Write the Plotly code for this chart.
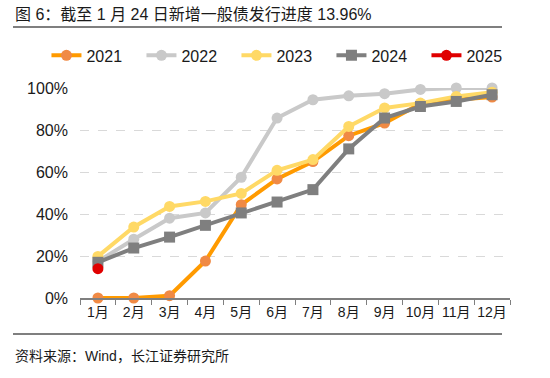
import plotly.graph_objects as go

months = ["1月", "2月", "3月", "4月", "5月", "6月", "7月", "8月", "9月", "10月", "11月", "12月"]
s2021 = [0.0, 0.0, 1.1, 17.6, 44.4, 56.7, 65.0, 77.3, 83.3, 92.5, 94.4, 95.7]
s2022 = [17.4, 28.0, 38.0, 40.5, 57.5, 85.7, 94.4, 96.3, 97.3, 99.3, 100.0, 100.0]
s2023 = [19.8, 33.8, 43.6, 46.0, 49.8, 60.8, 65.9, 81.7, 90.5, 92.8, 96.0, 98.0]
s2024 = [17.0, 23.8, 29.0, 34.6, 40.5, 45.7, 51.6, 71.0, 85.7, 91.2, 93.6, 96.8]
s2025 = [13.96]

FONT = "Liberation Sans, Arial, Noto Sans CJK SC"

series = [
    ("2021", s2021, "#FF9A00", "#F08A45", "circle"),
    ("2022", s2022, "#C9C9C9", "#C9C9C9", "circle"),
    ("2023", s2023, "#FFD966", "#FFD966", "circle"),
    ("2024", s2024, "#7F7F7F", "#7F7F7F", "square"),
    ("2025", s2025, "#E00000", "#E00000", "circle"),
]

fig = go.Figure()
for name, vals, lc, mc, sym in series:
    fig.add_trace(go.Scatter(
        x=months[:len(vals)], y=[v / 100 for v in vals], name=name,
        mode="lines+markers",
        line=dict(color=lc, width=4),
        marker=dict(color=mc, size=11, symbol=sym, line=dict(width=0)),
        cliponaxis=False,
    ))

fig.update_layout(
    width=550, height=378,
    margin=dict(l=80, r=40, t=88, b=80, autoexpand=False),
    paper_bgcolor="white", plot_bgcolor="white",
    font=dict(family=FONT, color="#1a1a1a"),
    showlegend=True,
    legend=dict(orientation="h", x=-0.078, xanchor="left", y=1.155, yanchor="middle",
                font=dict(size=16, family=FONT), entrywidth=50, entrywidthmode="pixels",
                itemwidth=30, bgcolor="rgba(0,0,0,0)", tracegroupgap=0),
)
fig.update_xaxes(
    type="category", tickson="boundaries", ticks="outside", ticklen=5, tickcolor="#7F7F7F",
    showline=True, linecolor="#7F7F7F", linewidth=1.5, showgrid=False, tickangle=0,
    tickfont=dict(size=14, family=FONT), range=[-0.5, 11.5],
)
fig.update_yaxes(
    range=[0, 1.0], tickvals=[0, 0.2, 0.4, 0.6, 0.8, 1.0], tickformat=".0%",
    showgrid=True, gridcolor="#D9D9D9", griddash="dash", gridwidth=1.2,
    zeroline=False, showline=False, ticks="", tickfont=dict(size=16, family=FONT),
    ticklabelstandoff=11,
)

fig.add_annotation(text="图 6：截至 1 月 24 日新增一般债发行进度 13.96%", xref="paper", yref="paper",
                   x=(13 - 80) / 430, y=(298 - 15) / 210, xanchor="left", yanchor="middle",
                   showarrow=False, font=dict(size=16, family=FONT, color="#1a1a1a"))
fig.add_annotation(text="资料来源：Wind，长江证券研究所", xref="paper", yref="paper",
                   x=(13 - 80) / 430, y=(298 - 356) / 210, xanchor="left", yanchor="middle",
                   showarrow=False, font=dict(size=14, family=FONT, color="#1a1a1a"))
fig.add_shape(type="line", xref="paper", yref="paper", x0=(13 - 80) / 430, x1=(502 - 80) / 430,
              y0=(298 - 27) / 210, y1=(298 - 27) / 210, line=dict(color="#555555", width=1.5))
fig.add_shape(type="line", xref="paper", yref="paper", x0=(13 - 80) / 430, x1=(502 - 80) / 430,
              y0=(298 - 334) / 210, y1=(298 - 334) / 210, line=dict(color="#555555", width=1.5))

fig.write_html("out.html", config={"displayModeBar": False},
               post_script="document.body.style.margin='0';")
